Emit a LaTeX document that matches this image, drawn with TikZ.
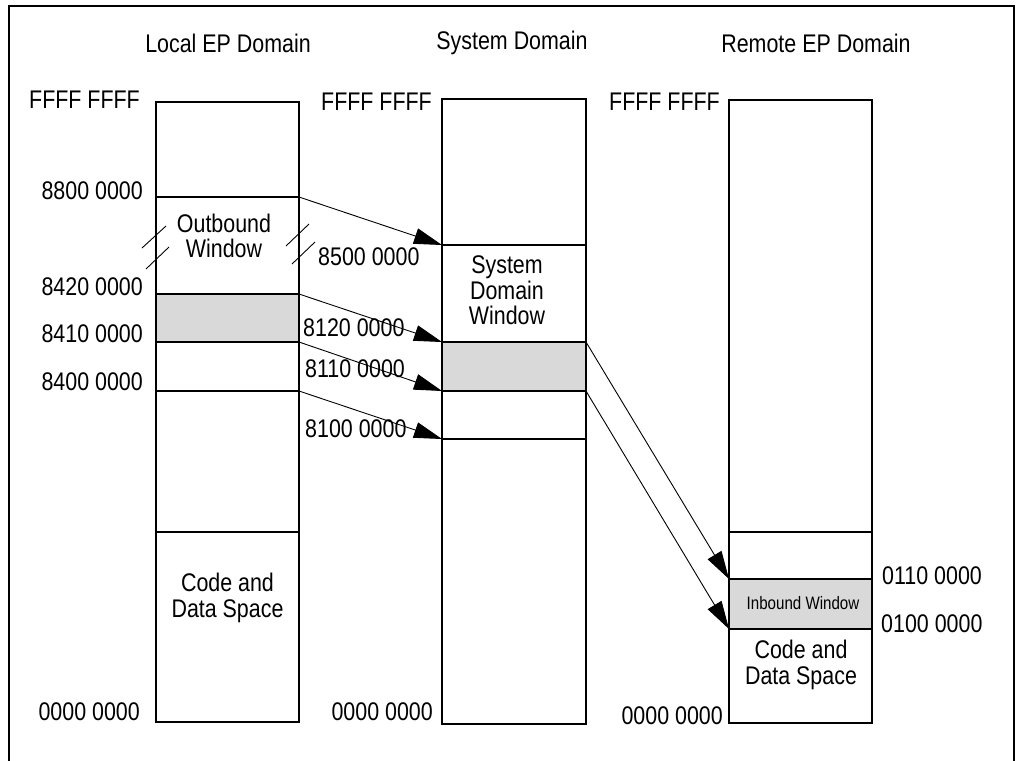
\documentclass[tikz,border=0pt]{standalone}
\usepackage{fontspec}
\setmainfont{Liberation Sans}[FakeStretch=0.84]
\usetikzlibrary{arrows.meta}
\definecolor{winshade}{HTML}{D9D9D9}
\tikzset{
  colbox/.style={draw, line width=2pt},
  sepline/.style={line width=2pt},
  winfill/.style={fill=winshade},
  lab/.style={inner sep=0pt, font=\fontsize{25.5}{25.5}\selectfont},
  ttl/.style={lab, anchor=base},
  addr/.style={lab, anchor=base east},
  addrw/.style={lab, anchor=base west},
  intext/.style={lab, anchor=north, align=center},
  smalltext/.style={inner sep=0pt, anchor=base, font=\fontsize{18}{19}\selectfont},
  mapping/.style={line width=0.9pt, -{Triangle[length=28pt 0 0,width=16pt 0 0]}},
  brk/.style={line width=0.9pt},
  framel/.style={line width=2pt}
}
\begin{document}
\begin{tikzpicture}[x=1pt,y=-1pt]
\useasboundingbox (0,0) rectangle (1021,761);
\fill[white] (0,0) rectangle (1021,761);
\draw[framel] (9,761) -- (9,6) -- (1014,6) -- (1014,761);

% shaded windows
\fill[winfill] (156,294) rectangle (299,342);
\fill[winfill] (442,342) rectangle (586,391);
\fill[winfill] (729,579) rectangle (872,629);

% columns
\draw[colbox] (156,102) rectangle (299,722);
\draw[colbox] (442,99) rectangle (586,724);
\draw[colbox] (729,100) rectangle (872,723);

% boundary coordinates
\coordinate (L8800) at (299,197);
\coordinate (L8420) at (299,294);
\coordinate (L8410) at (299,342);
\coordinate (L8400) at (299,391);
\coordinate (S8500) at (442,245);
\coordinate (S8120) at (442,342);
\coordinate (S8110) at (442,391);
\coordinate (S8100) at (442,439);
\coordinate (S8120r) at (586,342);
\coordinate (S8110r) at (586,391);
\coordinate (R0110) at (729,579);
\coordinate (R0100) at (729,629);

% separators
\draw[sepline] (156,197) -- (L8800);
\draw[sepline] (156,294) -- (L8420);
\draw[sepline] (156,342) -- (L8410);
\draw[sepline] (156,391) -- (L8400);
\draw[sepline] (156,532) -- (299,532);
\draw[sepline] (S8500) -- (586,245);
\draw[sepline] (S8120) -- (S8120r);
\draw[sepline] (S8110) -- (S8110r);
\draw[sepline] (S8100) -- (586,439);
\draw[sepline] (729,532) -- (872,532);
\draw[sepline] (R0110) -- (872,579);
\draw[sepline] (R0100) -- (872,629);

% break marks
\draw[brk] (142,248) -- (166,226);
\draw[brk] (146,269) -- (169,247);
\draw[brk] (286,246) -- (309,224);
\draw[brk] (292,264) -- (315,242);

% titles
\node[ttl] (tlocal) at (228,52) {Local EP Domain};
\node[ttl] (tsys) at (512,49) {System Domain};
\node[ttl] (tremote) at (816,52) {Remote EP Domain};

% local addresses
\node[addr] (lf) at (140,108) {FFFF FFFF};
\node[addr] (l88) at (143,199) {8800 0000};
\node[addr] (l842) at (143,295) {8420 0000};
\node[addr] (l841) at (143,342) {8410 0000};
\node[addr] (l840) at (143,390) {8400 0000};
\node[addr] (l0) at (140,720) {0000 0000};

% system addresses
\node[addr] (sf) at (432,110) {FFFF FFFF};
\node[addr] (s0) at (433,720) {0000 0000};
\node[addrw] (s85) at (318,265) {8500 0000};
\node[addrw] (s812) at (303,336) {8120 0000};
\node[addrw] (s811) at (305,377) {8110 0000};
\node[addrw] (s810) at (305,437) {8100 0000};

% remote addresses
\node[addr] (rf) at (720,110) {FFFF FFFF};
\node[addr] (r0) at (723,724) {0000 0000};
\node[addrw] (r011) at (882,584) {0110 0000};
\node[addrw] (r010) at (881,632) {0100 0000};

% region texts
\node[intext] (outw) at (224,213.5) {Outbound\\Window};
\node[intext] (sysw) at (507,255.5) {System\\Domain\\Window};
\node[intext] (lcode) at (227.5,573) {Code and\\Data Space};
\node[intext] (rcode) at (801,640) {Code and\\Data Space};
\node[smalltext] (inw) at (803,609) {Inbound Window};

% mappings
\draw[mapping] (L8800) -- (S8500);
\draw[mapping] (L8420) -- (S8120);
\draw[mapping] (L8410) -- (S8110);
\draw[mapping] (L8400) -- (S8100);
\draw[mapping] (S8120r) -- (R0110);
\draw[mapping] (S8110r) -- (R0100);
\end{tikzpicture}
\end{document}
